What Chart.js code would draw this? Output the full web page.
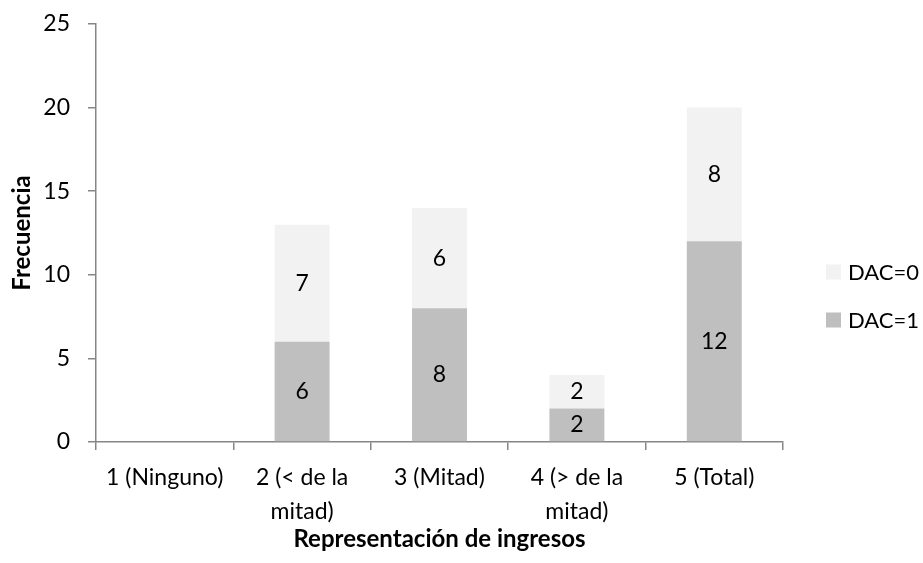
<!DOCTYPE html>
<html>
<head>
<meta charset="utf-8">
<script src="https://cdn.jsdelivr.net/npm/chart.js@4"></script>
<style>
  html, body { margin: 0; padding: 0; background: #fff; }
  #wrap { width: 923px; height: 563px; }
</style>
</head>
<body>
<div id="wrap"><canvas id="grafico" width="923" height="563"></canvas></div>
<script>
// categorias y frecuencias
const categorias = [
  "1 (Ninguno)",
  ["2 (< de la", "mitad)"],
  "3 (Mitad)",
  ["4 (> de la", "mitad)"],
  "5 (Total)"
];
const dac1 = [0, 6, 8, 2, 12];
const dac0 = [0, 7, 6, 2, 8];
const ticksY = [0, 5, 10, 15, 20, 25];

const fonte = "Lato, 'Open Sans', sans-serif";
const corEixo = "#868686";

// valor no meio de cada segmento
const rotulos = {
  id: "rotulos",
  afterDatasetsDraw(chart) {
    const ctx = chart.ctx;
    ctx.save();
    ctx.font = "23px " + fonte;
    ctx.fillStyle = "#000";
    ctx.textAlign = "center";
    ctx.textBaseline = "middle";
    chart.data.datasets.forEach((ds, i) => {
      chart.getDatasetMeta(i).data.forEach((bar, j) => {
        const v = ds.data[j];
        if (!v) return;
        ctx.fillText(String(v), bar.x, (bar.y + bar.base) / 2);
      });
    });
    ctx.restore();
  }
};

// legenda à direita, ordem invertida (DAC=0 em cima)
const legenda = {
  id: "legenda",
  afterDraw(chart) {
    const ctx = chart.ctx;
    const area = chart.chartArea;
    const x = area.right + 43;
    let y = (area.top + area.bottom) / 2 + 39;
    ctx.save();
    ctx.font = "22px " + fonte;
    ctx.textBaseline = "middle";
    ctx.textAlign = "left";
    chart.data.datasets.slice().reverse().forEach(ds => {
      ctx.fillStyle = ds.backgroundColor;
      ctx.fillRect(x, y - 7.5, 15, 15);
      ctx.fillStyle = "#000";
      ctx.fillText(ds.label, x + 22, y + 1);
      y += 48;
    });
    ctx.restore();
  }
};

new Chart(document.getElementById("grafico"), {
  type: "bar",
  data: {
    labels: categorias,
    datasets: [
      { label: "DAC=1", data: dac1, backgroundColor: "#BFBFBF" },
      { label: "DAC=0", data: dac0, backgroundColor: "#F2F2F2" }
    ]
  },
  options: {
    responsive: false,
    animation: false,
    layout: { padding: { top: 5, right: 140, left: 8, bottom: 6 } },
    datasets: { bar: { categoryPercentage: 1, barPercentage: 0.4 } },
    plugins: {
      tooltip: { enabled: false },
      legend: { display: false }
    },
    scales: {
      x: {
        stacked: true,
        afterFit(axis) { axis.height = 115; },
        grid: {
          offset: true,
          drawOnChartArea: false,
          color: corEixo,
          lineWidth: 1.5,
          tickLength: 8
        },
        border: { color: corEixo, width: 1.5 },
        ticks: {
          maxRotation: 0,
          autoSkip: false,
          color: "#000",
          font: { family: fonte, size: 23, lineHeight: 1.5 },
          padding: 10
        },
        title: {
          display: true,
          text: "Representación de ingresos",
          color: "#000",
          font: { family: fonte, size: 24, weight: "bold" },
          padding: { top: 2, bottom: 3 }
        }
      },
      y: {
        stacked: true,
        min: 0,
        max: 25,
        afterBuildTicks(axis) {
          axis.ticks = ticksY.map(v => ({ value: v }));
        },
        afterFit(axis) {
          axis.width = 88;
          axis.paddingTop = 24;
        },
        grid: {
          drawOnChartArea: false,
          color: corEixo,
          lineWidth: 1.5,
          tickLength: 8
        },
        border: { color: corEixo, width: 1.5 },
        ticks: {
          color: "#000",
          font: { family: fonte, size: 23 },
          padding: 18
        },
        title: {
          display: true,
          text: "Frecuencia",
          color: "#000",
          font: { family: fonte, size: 24, weight: "bold" },
          padding: { top: 0, bottom: 4 }
        }
      }
    }
  },
  plugins: [rotulos, legenda]
});
</script>
</body>
</html>
